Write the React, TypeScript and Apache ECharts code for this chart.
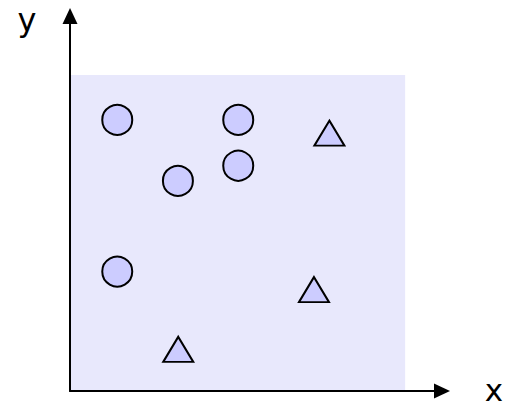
import React, { useEffect, useRef } from "react";
import * as echarts from "echarts";

const circleX = [1.41, 5.02, 3.22, 5.02, 1.41];
const circleY = [8.58, 8.58, 6.65, 7.13, 3.78];
const triangleX = [7.74, 7.28, 3.23];
const triangleY = [8.16, 3.21, 1.32];
const regionX = [0, 10];
const regionY = [0, 10];
const axisNames = ["x", "y"];

export default function App() {
  const ref = useRef<HTMLDivElement>(null);
  useEffect(() => {
    if (!ref.current) return;
    const chart = echarts.init(ref.current, null, { renderer: "svg" });
    const axisCommon = {
      type: "value" as const,
      min: 0,
      z: 5,
      splitLine: { show: false },
      axisTick: { show: false },
      axisLabel: { show: false },
      axisLine: {
        show: true,
        symbol: ["none", "triangle"],
        symbolSize: [15, 16],
        lineStyle: { color: "#000", width: 2 },
      },
    };
    chart.setOption({
      animation: false,
      grid: { left: 70, right: 65, top: 16, bottom: 16 },
      xAxis: { ...axisCommon, max: 11.1 },
      yAxis: { ...axisCommon, max: 11.87 },
      graphic: [
        {
          type: "text",
          x: 494,
          y: 390,
          style: {
            text: axisNames[0],
            font: '31px "DejaVu Sans"',
            fill: "#000",
            textAlign: "center",
            textVerticalAlign: "middle",
          },
        },
        {
          type: "text",
          x: 27,
          y: 20,
          style: {
            text: axisNames[1],
            font: '32px "DejaVu Sans"',
            fill: "#000",
            textAlign: "center",
            textVerticalAlign: "middle",
          },
        },
      ],
      series: [
        {
          type: "scatter",
          symbol: "circle",
          symbolSize: 30,
          z: 3,
          itemStyle: { color: "#ccccff", borderColor: "#000", borderWidth: 2, opacity: 1 },
          data: circleX.map((x, i) => [x, circleY[i]]),
          markArea: {
            silent: true,
            itemStyle: { color: "#e8e8fc" },
            data: [[{ coord: [regionX[0], regionY[0]] }, { coord: [regionX[1], regionY[1]] }]],
          },
        },
        {
          type: "scatter",
          symbol: "triangle",
          symbolSize: [30, 25],
          z: 3,
          itemStyle: { color: "#ccccff", borderColor: "#000", borderWidth: 2, opacity: 1 },
          data: triangleX.map((x, i) => [x, triangleY[i]]),
        },
      ],
    });
    return () => chart.dispose();
  }, []);
  return (
    <div
      ref={ref}
      style={{ position: "absolute", left: 0, top: 0, width: 507, height: 407 }}
    />
  );
}
